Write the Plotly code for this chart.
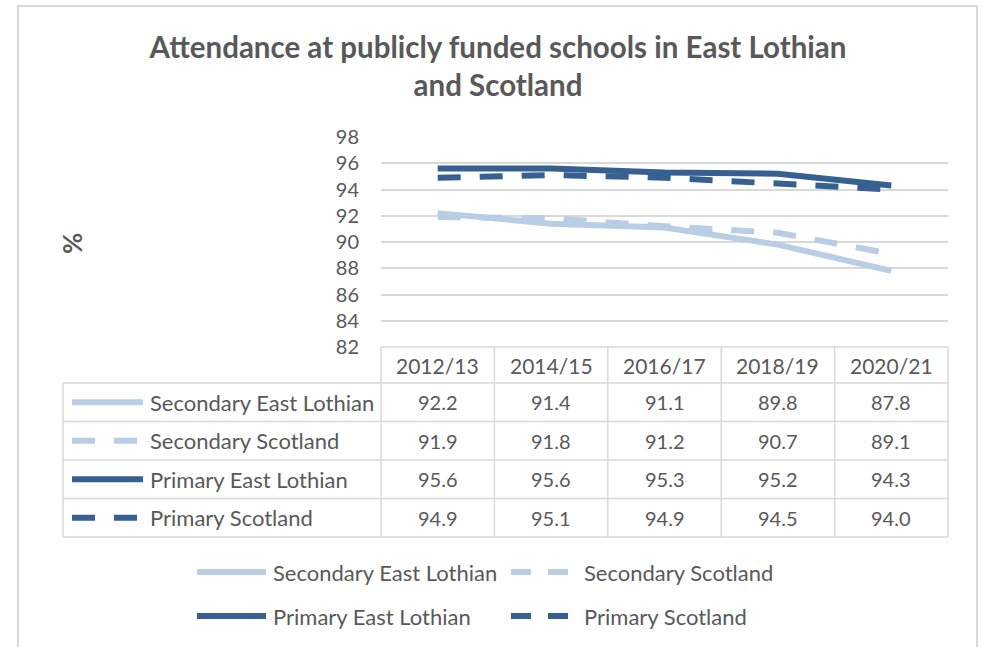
import plotly.graph_objects as go

# Attendance data (%), publicly funded schools
years = ["2012/13", "2014/15", "2016/17", "2018/19", "2020/21"]
secondary_east_lothian = [92.2, 91.4, 91.1, 89.8, 87.8]
secondary_scotland = [91.9, 91.8, 91.2, 90.7, 89.1]
primary_east_lothian = [95.6, 95.6, 95.3, 95.2, 94.3]
primary_scotland = [94.9, 95.1, 94.9, 94.5, 94.0]
y_ticks = [82, 84, 86, 88, 90, 92, 94, 96, 98]

LIGHT = "#B9CDE5"
DARK = "#376092"
TEXT = "#595959"
GRID = "#D9D9D9"
FONT = "Lato"
DASH = "23px,19px"

series = [
    ("Secondary East Lothian", secondary_east_lothian, LIGHT, "solid"),
    ("Secondary Scotland", secondary_scotland, LIGHT, DASH),
    ("Primary East Lothian", primary_east_lothian, DARK, "solid"),
    ("Primary Scotland", primary_scotland, DARK, DASH),
]

W, H = 982, 647


def px(x):
    return x / W


def py(y):
    return 1 - y / H


# plot area in pixels
PL, PR, PT, PB = 381, 948, 137, 347

fig = go.Figure()
for name, vals, color, dash in series:
    fig.add_trace(go.Scatter(
        x=years, y=vals, name=name, mode="lines",
        line=dict(color=color, width=6, dash=dash),
        showlegend=False, hoverinfo="x+y+name",
    ))

shapes = []
annotations = []

# outer chart border
shapes.append(dict(type="rect", xref="paper", yref="paper",
                   x0=px(18), x1=px(977), y0=py(6), y1=py(680),
                   line=dict(color=GRID, width=2), layer="below"))

# data table under the plot
col_w = (PR - PL) / len(years)
col_edges = [PL + i * col_w for i in range(len(years) + 1)]
row_edges = [383, 421.5, 460, 498.5, 537]
TL = 63
line_style = dict(color=GRID, width=1.5)

# header row
for i, yr in enumerate(years):
    annotations.append(dict(xref="paper", yref="paper",
                            x=px((col_edges[i] + col_edges[i + 1]) / 2), y=py(365),
                            text=yr, showarrow=False, xanchor="center", yanchor="middle",
                            font=dict(family=FONT, size=21, color=TEXT)))
shapes.append(dict(type="line", xref="paper", yref="paper",
                   x0=px(PL), x1=px(PR), y0=py(PB), y1=py(PB), line=line_style))
# horizontal row lines
for ry in row_edges:
    shapes.append(dict(type="line", xref="paper", yref="paper",
                       x0=px(TL), x1=px(PR), y0=py(ry), y1=py(ry), line=line_style))
# vertical lines
for cx in col_edges:
    shapes.append(dict(type="line", xref="paper", yref="paper",
                       x0=px(cx), x1=px(cx), y0=py(PB), y1=py(row_edges[-1]), line=line_style))
shapes.append(dict(type="line", xref="paper", yref="paper",
                   x0=px(TL), x1=px(TL), y0=py(row_edges[0]), y1=py(row_edges[-1]), line=line_style))

for r, (name, vals, color, dash) in enumerate(series):
    yc = (row_edges[r] + row_edges[r + 1]) / 2
    shapes.append(dict(type="line", xref="paper", yref="paper",
                       x0=px(72), x1=px(143), y0=py(yc), y1=py(yc),
                       line=dict(color=color, width=6, dash=dash)))
    annotations.append(dict(xref="paper", yref="paper", x=px(148), y=py(yc),
                            text=name, showarrow=False, xanchor="left", yanchor="middle",
                            font=dict(family=FONT, size=22, color=TEXT)))
    for i, v in enumerate(vals):
        annotations.append(dict(xref="paper", yref="paper",
                                x=px((col_edges[i] + col_edges[i + 1]) / 2), y=py(yc),
                                text=f"{v:.1f}", showarrow=False,
                                xanchor="center", yanchor="middle",
                                font=dict(family=FONT, size=20, color=TEXT)))

# legend below the table
legend_pos = [(197, 572), (511, 572), (197, 616), (511, 616)]
for (name, vals, color, dash), (lx, ly) in zip(series, legend_pos):
    solid = dash == "solid"
    shapes.append(dict(type="line", xref="paper", yref="paper",
                       x0=px(lx), x1=px(lx + 69), y0=py(ly), y1=py(ly),
                       line=dict(color=color, width=6, dash="solid" if solid else "20px,17px")))
    annotations.append(dict(xref="paper", yref="paper", x=px(lx + (74 if solid else 71)), y=py(ly),
                            text=name, showarrow=False, xanchor="left", yanchor="middle",
                            font=dict(family=FONT, size=22, color=TEXT)))

# y-axis title
annotations.append(dict(xref="paper", yref="paper", x=px(72), y=py(244),
                        text="<b>%</b>", showarrow=False, textangle=-90,
                        xanchor="center", yanchor="middle",
                        font=dict(family=FONT, size=26, color=TEXT)))

fig.update_layout(
    width=W, height=H,
    margin=dict(l=0, r=0, t=0, b=0, autoexpand=False),
    paper_bgcolor="white", plot_bgcolor="white",
    title=dict(text="<b>Attendance at publicly funded schools in East Lothian<br>and Scotland</b>",
               x=px(498), xanchor="center", y=py(58), yanchor="middle",
               font=dict(family=FONT, size=29.5, color=TEXT)),
    xaxis=dict(domain=[px(PL), px(PR)], range=[-0.5, len(years) - 0.5],
               showticklabels=False, showgrid=False, zeroline=False, showline=False,
               type="category", automargin=False),
    yaxis=dict(domain=[py(PB), py(PT)], range=[82, 98], tickvals=y_ticks,
               showgrid=True, gridcolor=GRID, gridwidth=1.5, zeroline=False,
               showline=False, ticks="", ticklabelstandoff=21, automargin=False,
               tickfont=dict(family=FONT, size=20, color=TEXT)),
    shapes=shapes,
    annotations=annotations,
    font=dict(family=FONT, color=TEXT),
)

fig.write_html("out.html")
